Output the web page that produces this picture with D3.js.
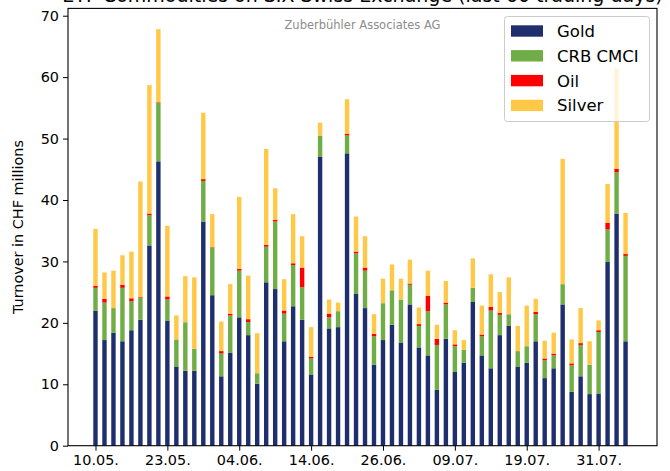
<!DOCTYPE html>
<html>
<head>
<meta charset="utf-8">
<script src="https://cdn.jsdelivr.net/npm/d3@7"></script>
<style>
  html, body { margin: 0; padding: 0; background: #fff; }
  svg { display: block; font-family: "DejaVu Sans", sans-serif; }
</style>
</head>
<body>
<svg id="chart" width="670" height="471"></svg>
<script>
// ---- data ----
const seriesNames = ["Gold", "CRB CMCI", "Oil", "Silver"];
const seriesColors = ["#1f2f6e", "#70ad47", "#ff0000", "#ffc846"];
const tickPositions = [0, 8, 16, 24, 32, 40, 48, 56];
const tickLabels = ["10.05.", "23.05.", "04.06.", "14.06.", "26.06.", "09.07.", "19.07.", "31.07."];
const gold = [22.0, 17.2, 18.4, 17.0, 18.8, 20.5, 32.6, 46.3, 20.3, 12.9,
              12.2, 12.2, 36.5, 24.5, 11.3, 15.1, 20.9, 18.0, 10.1, 26.6,
              25.5, 17.0, 22.7, 20.5, 11.6, 47.0, 19.1, 19.3, 47.6, 24.7,
              22.4, 13.2, 17.2, 19.7, 16.8, 23.0, 16.0, 14.7, 9.1, 17.4,
              12.0, 13.5, 23.4, 14.7, 12.6, 18.0, 19.5, 12.9, 13.5, 17.0,
              11.0, 12.6, 23.0, 8.8, 11.3, 8.4, 8.5, 29.9, 37.8, 17.0];
const crb = [3.7, 6.1, 4.0, 8.7, 4.7, 3.6, 4.9, 9.5, 3.5, 4.4,
             7.9, 3.6, 6.6, 7.7, 3.7, 6.1, 7.6, 2.1, 1.7, 5.8,
             11.0, 4.5, 6.7, 5.3, 2.6, 3.5, 1.8, 2.6, 2.9, 6.6,
             6.1, 4.6, 6.0, 5.6, 7.0, 3.2, 3.5, 7.2, 7.3, 5.6,
             4.2, 2.1, 2.3, 3.1, 9.4, 3.3, 1.9, 2.5, 2.7, 4.4,
             2.9, 2.1, 3.3, 4.3, 5.1, 4.8, 10.0, 5.3, 6.7, 13.9];
const oil = [0.3, 0.6, 0.0, 0.5, 0.5, 0.1, 0.3, 0.1, 0.5, 0.0,
             0.0, 0.0, 0.3, 0.1, 0.4, 0.3, 0.3, 0.5, 0.0, 0.3,
             0.3, 0.5, 0.3, 3.2, 0.3, 0.0, 0.6, 0.0, 0.3, 0.3,
             0.5, 0.4, 0.0, 0.0, 0.0, 0.2, 0.3, 2.5, 1.0, 0.3,
             0.3, 0.0, 0.0, 0.3, 0.6, 0.3, 0.0, 0.0, 0.0, 0.4,
             0.3, 0.3, 0.0, 0.3, 0.3, 0.0, 0.3, 1.1, 0.6, 0.3];
const silver = [9.3, 4.3, 6.1, 4.8, 7.6, 18.8, 20.9, 11.9, 11.5, 3.9,
                7.5, 11.6, 10.8, 5.4, 4.8, 4.8, 11.7, 7.1, 6.5, 15.6,
                5.1, 5.1, 8.0, 5.1, 4.8, 2.1, 2.3, 1.4, 5.6, 5.7,
                5.1, 3.2, 4.0, 4.2, 3.4, 3.9, 2.7, 4.1, 2.3, 3.5,
                2.3, 1.6, 4.8, 4.7, 5.3, 3.4, 6.0, 4.1, 6.6, 2.1,
                2.9, 3.4, 20.4, 3.9, 5.7, 3.8, 1.6, 6.3, 16.3, 6.7];
const titleText = "ETF Commodities on SIX Swiss Exchange (last 60 trading days)";
const watermark = "Zuberbühler Associates AG";
const yLabel = "Turnover in CHF millions";

(function draw() {
  const table = gold.map((g, i) => ({ idx: i, "Gold": g, "CRB CMCI": crb[i], "Oil": oil[i], "Silver": silver[i] }));
  const stacked = d3.stack().keys(seriesNames)(table);

  const svg = d3.select("#chart");
  const pL = 68, pR = 657, pT = 8.4, pB = 445.7;

  const x = d3.scaleLinear().domain([-3.06, 62.5]).range([pL, pR]);
  const y = d3.scaleLinear().domain([0, 71.19]).range([pB, pT]);
  const barW = x(0.49) - x(0);

  svg.append("text")
    .attr("x", (pL + pR) / 2).attr("y", 2)
    .attr("text-anchor", "middle")
    .attr("font-size", 19)
    .attr("fill", "#000")
    .text(titleText);

  const g = svg.append("g");
  stacked.forEach((s, k) => {
    g.append("g").attr("fill", seriesColors[k])
      .selectAll("rect").data(s).join("rect")
      .attr("x", d => x(d.data.idx) - barW / 2)
      .attr("width", barW)
      .attr("y", d => y(d[1]))
      .attr("height", d => Math.max(0, y(d[0]) - y(d[1])));
  });

  svg.append("text")
    .attr("x", (pL + pR) / 2).attr("y", 29)
    .attr("text-anchor", "middle")
    .attr("font-size", 11.5)
    .attr("fill", "#8c8c8c")
    .text(watermark);

  const yAxis = d3.axisLeft(y).tickValues(d3.range(0, 71, 10)).tickSize(5).tickPadding(4);
  const yg = svg.append("g").attr("transform", `translate(${pL},0)`).call(yAxis);
  const xAxis = d3.axisBottom(x).tickValues(tickPositions).tickFormat((d, i) => tickLabels[i]).tickSize(5).tickPadding(4);
  const xg = svg.append("g").attr("transform", `translate(0,${pB})`).call(xAxis);
  [yg, xg].forEach(a => {
    a.select(".domain").remove();
    a.selectAll("line").attr("stroke", "#000").attr("stroke-width", 1);
    a.selectAll("text").attr("font-size", 14.4).attr("fill", "#000").attr("font-family", "DejaVu Sans");
  });

  svg.append("rect")
    .attr("x", pL).attr("y", pT)
    .attr("width", pR - pL).attr("height", pB - pT)
    .attr("fill", "none").attr("stroke", "#000").attr("stroke-width", 1.1);

  svg.append("text")
    .attr("transform", `translate(23,${(pT + pB) / 2}) rotate(-90)`)
    .attr("text-anchor", "middle")
    .attr("font-size", 14.4)
    .attr("fill", "#000")
    .text(yLabel);

  const lg = svg.append("g");
  const lx = 504.5, ly = 16.5, lw = 145, lh = 105;
  lg.append("rect")
    .attr("x", lx).attr("y", ly).attr("width", lw).attr("height", lh)
    .attr("rx", 3).attr("ry", 3)
    .attr("fill", "#fff").attr("fill-opacity", 0.8)
    .attr("stroke", "#cccccc").attr("stroke-width", 1);
  seriesNames.forEach((n, i) => {
    const cy = 31 + i * 24.8;
    lg.append("rect")
      .attr("x", 511).attr("y", cy - 5.7).attr("width", 32).attr("height", 11.4)
      .attr("fill", seriesColors[i]);
    lg.append("text")
      .attr("x", 557).attr("y", cy).attr("dy", "0.36em")
      .attr("font-size", 16.5).attr("fill", "#000")
      .text(n);
  });
})();
</script>
</body>
</html>
